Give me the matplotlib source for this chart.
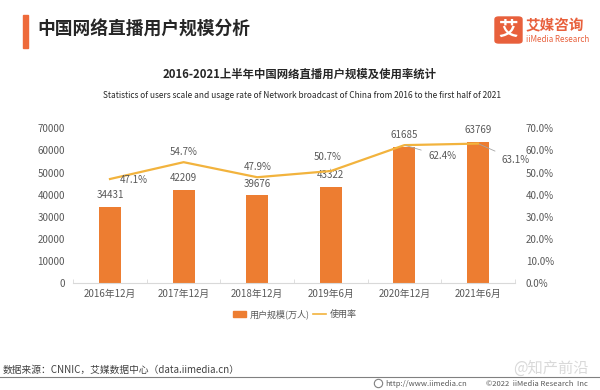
import matplotlib
matplotlib.use("Agg")
import matplotlib.pyplot as plt
from matplotlib.patches import Rectangle, FancyBboxPatch
from matplotlib.lines import Line2D

plt.rcParams['font.family'] = ['Noto Sans CJK SC', 'DejaVu Sans']

categories = ["2016年12月", "2017年12月", "2018年12月", "2019年6月", "2020年12月", "2021年6月"]
users = [34431, 42209, 39676, 43322, 61685, 63769]
rate = [47.1, 54.7, 47.9, 50.7, 62.4, 63.1]
left_ticks = [0, 10000, 20000, 30000, 40000, 50000, 60000, 70000]
right_ticks = [0, 10, 20, 30, 40, 50, 60, 70]

BAR = "#ED7D31"
LINE = "#F2B33D"
TXT = "#595959"

fig = plt.figure(figsize=(6, 3.9), dpi=100)
W, H = 600, 390
def fx(px): return px / W
def fy(py): return 1 - py / H

ax = fig.add_axes([fx(73.2), fy(283.3), fx(514.8 - 73.2), (283.3 - 128.3) / H])
x = list(range(len(categories)))
ax.bar(x, users, width=0.3, color=BAR, zorder=2)
ax.set_xlim(-0.5, 5.5)
ax.set_ylim(0, 70000)
ax.set_yticks(left_ticks)
ax.set_yticklabels([str(v) for v in left_ticks], fontsize=7, color=TXT)
ax.set_xticks(x)
ax.set_xticklabels(categories, fontsize=7, color=TXT)
for s in ["top", "right", "left"]:
    ax.spines[s].set_visible(False)
ax.spines["bottom"].set_color("#D9D9D9")
ax.tick_params(axis="y", length=0, pad=6)
ax.tick_params(axis="x", length=0, pad=4)
ax.set_xticks([i + 0.5 for i in range(-1, 6)], minor=True)
ax.tick_params(axis="x", which="minor", length=3, color="#D9D9D9", direction="in")
for i, v in enumerate(users):
    ax.annotate(str(v), (i, v), xytext=(0, 5), textcoords="offset points",
                ha="center", va="bottom", fontsize=7, color=TXT)

ax2 = ax.twinx()
ax2.plot(x, rate, color=LINE, lw=1.6, zorder=3)
ax2.set_ylim(0, 70)
ax2.set_yticks(right_ticks)
ax2.set_yticklabels([f"{v:.1f}%" for v in right_ticks], fontsize=7, color=TXT)
for s in ["top", "right", "left", "bottom"]:
    ax2.spines[s].set_visible(False)
ax2.tick_params(axis="y", length=0, pad=8)

offsets = [(17, -1, False), (0, 4, False), (0, 4, False),
           (-2, 10, True), (17, -8, True), (17, -12, True)]
for i, (r, (dx, dy, lead)) in enumerate(zip(rate, offsets)):
    if lead:
        ax2.annotate(f"{r}%", (i, r), xytext=(dx, dy), textcoords="offset points",
                     ha="left" if dx > 0 else "center", va="center", fontsize=7, color=TXT,
                     arrowprops=dict(arrowstyle="-", color="#A6A6A6", lw=0.6,
                                     shrinkA=3, shrinkB=1))
    else:
        ax2.annotate(f"{r}%", (i, r), xytext=(dx, dy), textcoords="offset points",
                     ha="center", va="bottom" if dy > 0 else "center", fontsize=7, color=TXT)

# Header
fig.patches.append(Rectangle((fx(23), fy(48)), fx(5), 33 / H, color="#EE6A3A",
                             transform=fig.transFigure, figure=fig))
fig.text(fx(37), fy(30), "中国网络直播用户规模分析", fontsize=12.8, fontweight="bold",
         color="#262626", va="center", ha="left")
# Logo
fig.patches.append(FancyBboxPatch((fx(495), fy(43)), fx(27), 26 / H,
                                  boxstyle="round,pad=0,rounding_size=0.006",
                                  color="#E8603C", transform=fig.transFigure, figure=fig))
fig.text(fx(508.5), fy(30), "艾", fontsize=14, fontweight="bold", color="white",
         ha="center", va="center")
fig.text(fx(526), fy(25), "艾媒咨询", fontsize=10.5, fontweight="bold", color="#E8603C",
         ha="left", va="center")
fig.text(fx(526.5), fy(39.5), "iiMedia Research", fontsize=5.8, color="#E8603C",
         ha="left", va="center")

# Titles
fig.text(fx(300), fy(74), "2016-2021上半年中国网络直播用户规模及使用率统计", fontsize=8.2,
         fontweight="bold", color="#262626", ha="center", va="center")
fig.text(fx(302), fy(95), "Statistics of users scale and usage rate of Network broadcast of China from 2016 to the first half of 2021",
         fontsize=6, color="#262626", ha="center", va="center")

# Legend
handles = [Rectangle((0, 0), 1, 1, color=BAR), Line2D([0], [0], color=LINE, lw=1.2)]
fig.legend(handles, ["用户规模(万人)", "使用率"], loc="center", bbox_to_anchor=(fx(295), fy(314)),
           ncol=2, frameon=False, fontsize=6.5, handlelength=1.4, handleheight=0.7,
           columnspacing=0.4, handletextpad=0.4, labelcolor=TXT)

# Footer
fig.text(fx(3), fy(370), "数据来源：CNNIC，艾媒数据中心（data.iimedia.cn）", fontsize=7,
         color="#404040", ha="left", va="center")
fig.add_artist(Line2D([0, 1], [fy(376.5), fy(376.5)], color="#808080", lw=0.8,
                      transform=fig.transFigure))
fig.add_artist(Line2D([fx(378)], [fy(383)], marker="o", markersize=6, mfc="none",
                      mec="#808080", mew=0.8, transform=fig.transFigure))
fig.text(fx(385), fy(383.5), "http://www.iimedia.cn", fontsize=5.5, color="#595959",
         ha="left", va="center")
fig.text(fx(588), fy(383.5), "©2022  iiMedia Research  Inc", fontsize=5.5, color="#595959",
         ha="right", va="center")
fig.text(fx(589), fy(368), "@知产前沿", fontsize=11, color="#D0D0D0", alpha=0.8,
         ha="right", va="center")

fig.savefig("out.png", dpi=100, facecolor="white")
